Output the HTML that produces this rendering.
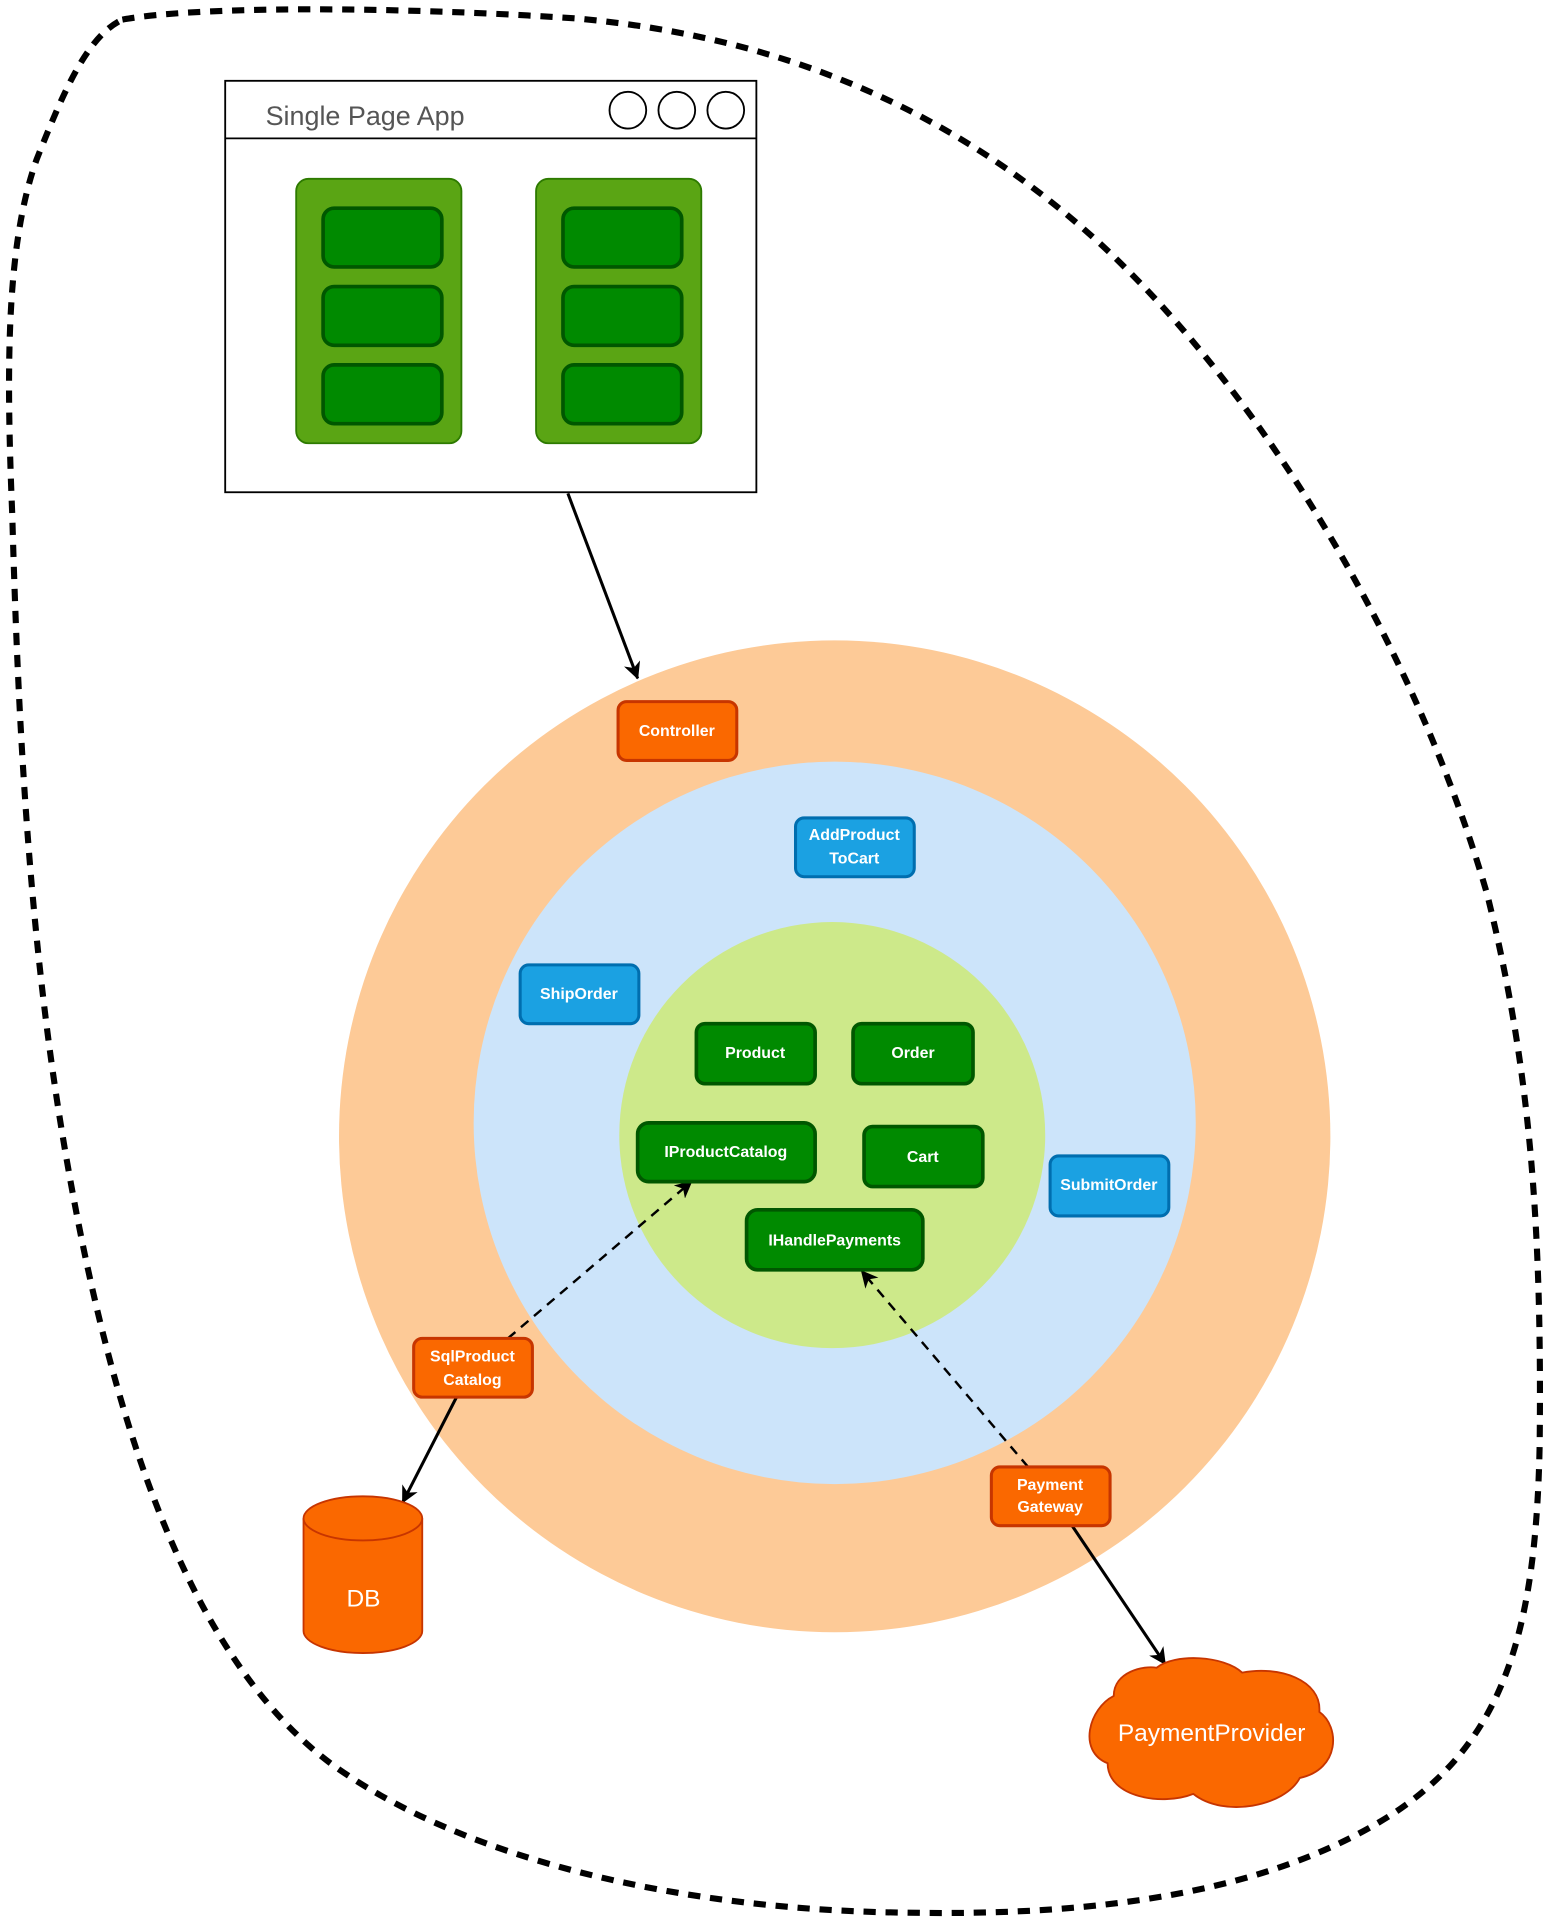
<!DOCTYPE html>
<html><head><style>html,body{margin:0;padding:0;background:#fff;}svg{display:block}</style></head>
<body>
<svg width="1547" height="1920" viewBox="0 0 1264 1568" preserveAspectRatio="none" xmlns="http://www.w3.org/2000/svg" font-family="Liberation Sans, DejaVu Sans, sans-serif">
<defs>
<marker id="ah" markerWidth="14" markerHeight="14" refX="13" refY="7" orient="auto" markerUnits="userSpaceOnUse"><path d="M0,0 L14,7 L0,14 L4,7 z" fill="#000"/></marker>
</defs>
<path d="M100,16 C160,5 320,5 470,15 C640,30 780,90 900,200 C1040,330 1160,540 1215,730 C1250,870 1260,1000 1258,1180 C1255,1330 1230,1420 1140,1480 C1040,1545 900,1565 740,1562 C560,1560 380,1520 270,1440 C150,1350 90,1150 55,950 C25,780 15,600 10,420 C5,300 5,200 30,130 C50,80 70,30 100,16 z" fill="none" stroke="#000" stroke-width="5" stroke-dasharray="10,8"/>
<rect x="184" y="66" width="434" height="336" fill="#fff" stroke="#000" stroke-width="1.5"/>
<line x1="184" y1="113" x2="618" y2="113" stroke="#000" stroke-width="1.5"/>
<text x="217" y="102" font-size="22" fill="#555">Single Page App</text>
<circle cx="513" cy="90" r="15" fill="#fff" stroke="#000" stroke-width="1.5"/>
<circle cx="553" cy="90" r="15" fill="#fff" stroke="#000" stroke-width="1.5"/>
<circle cx="593" cy="90" r="15" fill="#fff" stroke="#000" stroke-width="1.5"/>
<g stroke="#2d7a00" stroke-width="1.5" fill="#5aa514">
<rect x="242" y="146" width="135" height="216" rx="10"/>
<rect x="438" y="146" width="135" height="216" rx="10"/>
</g>
<g fill="#008a00" stroke="#005700" stroke-width="3">
<rect x="264" y="170" width="97" height="48" rx="9"/><rect x="264" y="234" width="97" height="48" rx="9"/><rect x="264" y="298" width="97" height="48" rx="9"/>
<rect x="460" y="170" width="97" height="48" rx="9"/><rect x="460" y="234" width="97" height="48" rx="9"/><rect x="460" y="298" width="97" height="48" rx="9"/>
</g>
<ellipse cx="682" cy="928" rx="405" ry="405" fill="#fdca97"/>
<ellipse cx="682" cy="917" rx="295" ry="295" fill="#cce4fa"/>
<ellipse cx="680" cy="927" rx="174" ry="174" fill="#cde98a"/>
<line x1="464" y1="403" x2="521" y2="554" stroke="#000" stroke-width="2.5" marker-end="url(#ah)"/>
<line x1="415" y1="1093" x2="565" y2="965" stroke="#000" stroke-width="2" stroke-dasharray="8,6" marker-end="url(#ah)"/>
<line x1="840" y1="1198" x2="704" y2="1038" stroke="#000" stroke-width="2" stroke-dasharray="8,6" marker-end="url(#ah)"/>
<line x1="373" y1="1141" x2="329" y2="1227" stroke="#000" stroke-width="2.5" marker-end="url(#ah)"/>
<line x1="876" y1="1246" x2="952" y2="1359" stroke="#000" stroke-width="2.5" marker-end="url(#ah)"/>
<g font-size="13" font-weight="bold" fill="#fff" text-anchor="middle">
<g fill="#fa6800" stroke="#c73500" stroke-width="2.5">
<rect x="505" y="573" width="97" height="48" rx="7"/>
<rect x="338" y="1093" width="97" height="48" rx="7"/>
<rect x="810" y="1198" width="97" height="48" rx="7"/>
</g>
<g fill="#1ba1e2" stroke="#006eaf" stroke-width="2.5">
<rect x="650" y="668" width="97" height="48" rx="7"/>
<rect x="425" y="788" width="97" height="48" rx="7"/>
<rect x="858" y="944" width="97" height="49" rx="7"/>
</g>
<g fill="#008a00" stroke="#005700" stroke-width="3">
<rect x="569" y="836" width="97" height="49" rx="7"/>
<rect x="697" y="836" width="98" height="49" rx="7"/>
<rect x="521" y="917" width="145" height="48" rx="9"/>
<rect x="706" y="920" width="97" height="49" rx="7"/>
<rect x="610" y="988" width="144" height="49" rx="9"/>
</g>
<text x="553" y="601">Controller</text>
<text x="698" y="686">AddProduct</text><text x="698" y="705">ToCart</text>
<text x="473" y="816">ShipOrder</text>
<text x="906" y="972">SubmitOrder</text>
<text x="617" y="864">Product</text>
<text x="746" y="864">Order</text>
<text x="593" y="945">IProductCatalog</text>
<text x="754" y="949">Cart</text>
<text x="682" y="1017">IHandlePayments</text>
<text x="386" y="1112">SqlProduct</text><text x="386" y="1131">Catalog</text>
<text x="858" y="1217">Payment</text><text x="858" y="1235">Gateway</text>
</g>
<path d="M248,1240 L248,1332 A48.5,18 0 0 0 345,1332 L345,1240" fill="#fa6800" stroke="#c73500" stroke-width="1.5"/>
<ellipse cx="296.5" cy="1240" rx="48.5" ry="18" fill="#fa6800" stroke="#c73500" stroke-width="1.5"/>
<text x="297" y="1312" font-size="20" fill="#fff" text-anchor="middle">DB</text>
<path d="M945,1362 C960,1350 1000,1352 1015,1366 C1045,1360 1080,1372 1078,1398 C1095,1410 1095,1445 1062,1452 C1050,1475 1000,1485 975,1465 C950,1475 905,1468 905,1440 C880,1430 890,1395 910,1385 C910,1365 935,1360 945,1362 z" fill="#fa6800" stroke="#c73500" stroke-width="1.5"/>
<text x="990" y="1422" font-size="20" fill="#fff" text-anchor="middle">PaymentProvider</text>
</svg>
</body></html>
